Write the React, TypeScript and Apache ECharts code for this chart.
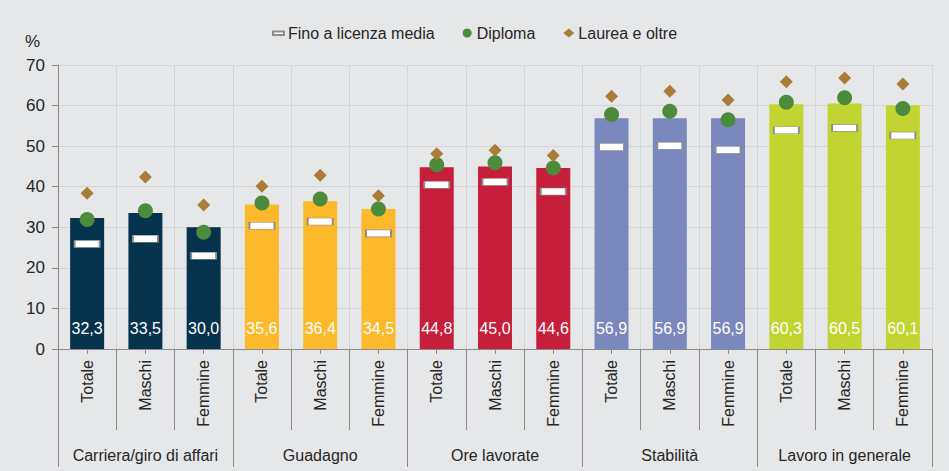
import React, { useEffect, useRef } from "react";
import * as echarts from "echarts";

const subCategories = ["Totale", "Maschi", "Femmine"];
const groups = [
  "Carriera/giro di affari",
  "Guadagno",
  "Ore lavorate",
  "Stabilità",
  "Lavoro in generale",
];
const barValues = [32.3, 33.5, 30.0, 35.6, 36.4, 34.5, 44.8, 45.0, 44.6, 56.9, 56.9, 56.9, 60.3, 60.5, 60.1];
const finoValues = [25.9, 27.2, 23.0, 30.4, 31.4, 28.5, 40.5, 41.2, 38.8, 49.8, 50.1, 49.1, 53.9, 54.5, 52.6];
const diplomaValues = [31.9, 34.1, 28.8, 36.0, 37.0, 34.5, 45.4, 45.9, 44.6, 57.8, 58.6, 56.5, 60.8, 61.9, 59.3];
const laureaValues = [38.4, 42.4, 35.5, 40.1, 42.8, 37.8, 48.1, 49.0, 47.7, 62.3, 63.5, 61.4, 65.9, 66.8, 65.3];
const groupColors = ["#05324d", "#fbb92b", "#c51f3b", "#7a88be", "#c1d431"];
const seriesNames = ["Fino a licenza media", "Diploma", "Laurea e oltre"];

const FONT = "'Liberation Sans', Arial, sans-serif";
const TEXT = "#262626";
const AXIS = "#8a8a8a";
const GRID = "#d2d4d6";

export default function App() {
  const ref = useRef<HTMLDivElement>(null);
  useEffect(() => {
    if (!ref.current) return;
    const chart = echarts.init(ref.current, null, { renderer: "svg" });
    const cats = groups.flatMap((g, gi) => subCategories.map((s) => s + "|" + gi));
    const option: any = {
      animation: false,
      backgroundColor: "#e6e7e8",
      textStyle: { fontFamily: FONT },
      grid: { left: 58, right: 17, top: 65, bottom: 122 },
      legend: {
        data: [
          { name: seriesNames[0], icon: "path://M0,0 L0,0 M0,3 L11,3 L11,6.5 L0,6.5 Z M11,9 L11,9" },
          { name: seriesNames[1], icon: "circle" },
          { name: seriesNames[2], icon: "diamond" },
        ],
        top: 20,
        left: "center",
        itemWidth: 11,
        itemHeight: 9,
        itemGap: 28,
        textStyle: { fontSize: 16, color: TEXT, fontFamily: FONT, padding: [0, 0, 0, -1] },
      },
      graphic: [
        { type: "text", left: 25, top: 33, style: { text: "%", font: "17px " + FONT, fill: TEXT } },
      ],
      xAxis: [
        {
          type: "category",
          data: cats,
          position: "bottom",
          axisLine: { show: true, lineStyle: { color: AXIS } },
          axisTick: { show: true, interval: 0, length: 81, lineStyle: { color: AXIS } },
          axisLabel: {
            interval: 0,
            rotate: 90,
            margin: 11,
            fontSize: 16,
            color: TEXT,
            fontFamily: FONT,
            formatter: (v: string) => v.split("|")[0],
          },
          splitLine: { show: true, interval: 0, lineStyle: { color: GRID } },
        },
        {
          type: "category",
          data: cats,
          position: "bottom",
          axisLine: { show: false },
          axisTick: { show: true, alignWithLabel: true, interval: 0, length: 5, lineStyle: { color: AXIS } },
          axisLabel: { show: false },
          splitLine: { show: false },
        },
        {
          type: "category",
          data: groups,
          position: "bottom",
          axisLine: { show: false },
          axisTick: { show: true, interval: 0, length: 118, lineStyle: { color: AXIS } },
          axisLabel: { interval: 0, margin: 98, fontSize: 16, color: TEXT, fontFamily: FONT },
          splitLine: { show: false },
        },
      ],
      yAxis: {
        type: "value",
        min: 0,
        max: 70,
        interval: 10,
        axisLine: { show: true, lineStyle: { color: AXIS } },
        axisTick: { show: true, length: 6, lineStyle: { color: AXIS } },
        axisLabel: { margin: 13, fontSize: 17, color: TEXT, fontFamily: FONT },
        splitLine: { show: true, lineStyle: { color: GRID } },
      },
      series: [
        {
          type: "bar",
          name: "Totale",
          data: barValues,
          barWidth: 34,
          xAxisIndex: 0,
          itemStyle: { color: (p: any) => groupColors[Math.floor(p.dataIndex / 3)] },
          label: {
            show: true,
            position: "insideBottom",
            distance: 13,
            color: "#ffffff",
            fontSize: 16,
            fontFamily: FONT,
            formatter: (p: any) => p.value.toFixed(1).replace(".", ","),
          },
        },
        {
          type: "scatter",
          name: seriesNames[0],
          data: finoValues,
          xAxisIndex: 0,
          symbol: "rect",
          symbolSize: [25, 7],
          itemStyle: { color: "#ffffff", borderColor: "#8c8c8c", borderWidth: 1, opacity: 1 },
        },
        {
          type: "scatter",
          name: seriesNames[1],
          data: diplomaValues,
          xAxisIndex: 0,
          symbol: "circle",
          symbolSize: 15,
          itemStyle: { color: "#4c8a3c", opacity: 1 },
        },
        {
          type: "scatter",
          name: seriesNames[2],
          data: laureaValues,
          xAxisIndex: 0,
          symbol: "diamond",
          symbolSize: 13,
          itemStyle: { color: "#a97c38", opacity: 1 },
        },
      ],
    };
    chart.setOption(option);
    return () => chart.dispose();
  }, []);
  return (
    <div
      ref={ref}
      style={{ position: "fixed", left: 0, top: 0, width: 949, height: 471 }}
    />
  );
}
